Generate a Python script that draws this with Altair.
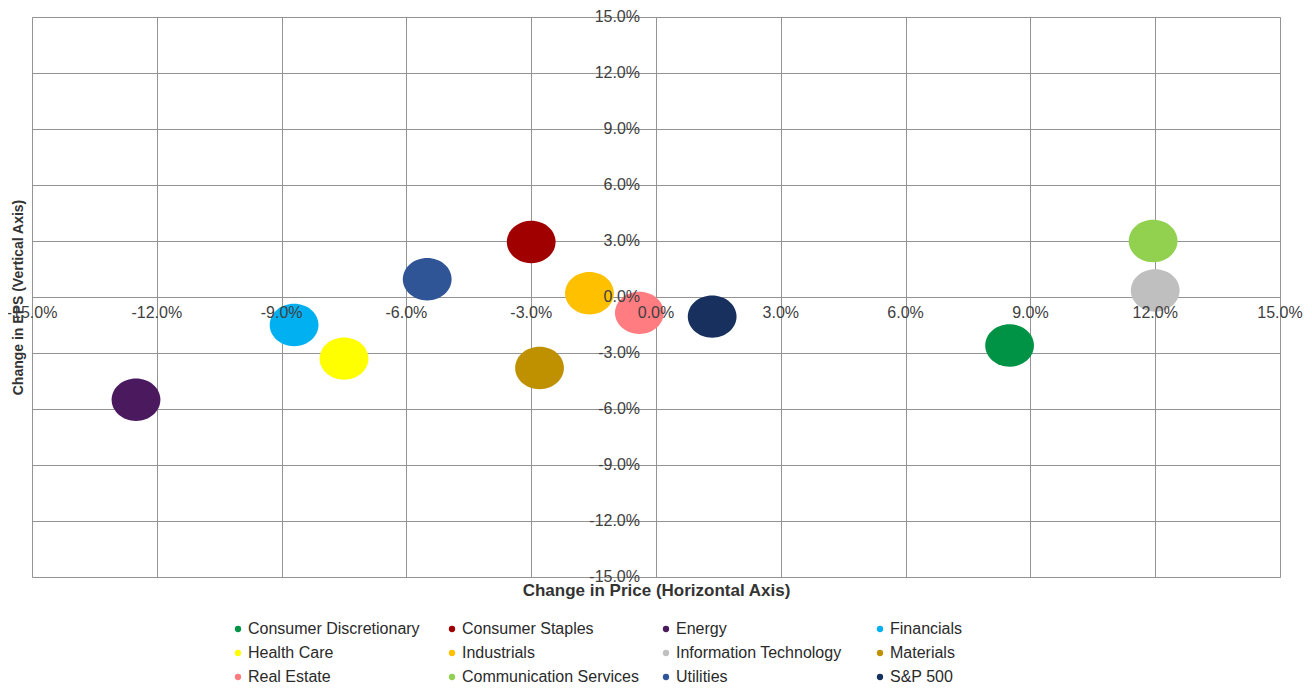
import altair as alt
import pandas as pd

sectors = ["Consumer Discretionary", "Consumer Staples", "Energy", "Financials",
           "Health Care", "Industrials", "Information Technology", "Materials",
           "Real Estate", "Communication Services", "Utilities", "S&P 500"]
price_change = [8.5, -3.0, -12.5, -8.7, -7.5, -1.6, 12.0, -2.8, -0.4, 11.95, -5.5, 1.35]
eps_change = [-2.6, 2.95, -5.5, -1.5, -3.3, 0.2, 0.35, -3.8, -0.85, 3.0, 0.95, -1.05]
colors = ["#009245", "#A00000", "#4B1A5E", "#00B0F0", "#FFFF00", "#FFC000",
          "#BFBFBF", "#BF9000", "#FF7C80", "#92D050", "#2F5597", "#17305E"]
ticks = [-15, -12, -9, -6, -3, 0, 3, 6, 9, 12, 15]
tick_labels = [f"{t:.1f}%" for t in ticks]

FONT = "Liberation Sans, Arial, sans-serif"
W, H = 1248, 560

df = pd.DataFrame({"sector": sectors, "price": price_change, "eps": eps_change})
ticks_df = pd.DataFrame({"t": ticks, "label": tick_labels, "zero": [0] * len(ticks)})

xscale = alt.Scale(domain=[-15, 15], nice=False, zero=False)
yscale = alt.Scale(domain=[-15, 15], nice=False, zero=False)

ellipse = "M-1.15,0 A1.15,1 0 1,0 1.15,0 A1.15,1 0 1,0 -1.15,0 Z"

points = alt.Chart(df).mark_point(filled=True, opacity=1, shape=ellipse, size=1800, strokeWidth=0).encode(
    x=alt.X("price:Q", scale=xscale,
            axis=alt.Axis(values=ticks, labels=False, ticks=False, domain=False, grid=True,
                          gridColor="#939393", gridWidth=1,
                          title="Change in Price (Horizontal Axis)",
                          titleFont=FONT, titleFontSize=17, titleFontWeight="bold", titleColor="#333333",
                          titleX=W / 2, titleY=13, titleBaseline="middle", titleAlign="center")),
    y=alt.Y("eps:Q", scale=yscale,
            axis=alt.Axis(values=ticks, labels=False, ticks=False, domain=False, grid=True,
                          gridColor="#939393", gridWidth=1,
                          title="Change in EPS (Vertical Axis)",
                          titleFont=FONT, titleFontSize=14, titleFontWeight="bold", titleColor="#333333",
                          titleX=-14, titleY=H / 2, titleAngle=-90, titleBaseline="middle",
                          titleAlign="center")),
    color=alt.Color("sector:N", sort=sectors,
                    scale=alt.Scale(domain=sectors, range=colors),
                    legend=alt.Legend(title=None, orient="none", legendX=198, legendY=604,
                                      direction="horizontal", columns=4, gridAlign="all",
                                      symbolType="circle", symbolSize=40, symbolStrokeWidth=0,
                                      labelFont=FONT, labelFontSize=16, labelColor="#2a2a2a",
                                      columnPadding=19, rowPadding=8, labelOffset=2,
                                      labelLimit=300)),
)

xlabels = alt.Chart(ticks_df).mark_text(font=FONT, fontSize=16, color="#404040",
                                        align="center", baseline="middle", dy=16).encode(
    x=alt.X("t:Q", scale=xscale), y=alt.Y("zero:Q", scale=yscale), text="label:N")

ylabels = alt.Chart(ticks_df).mark_text(font=FONT, fontSize=16, color="#404040",
                                        align="right", baseline="middle", dx=-16).encode(
    x=alt.X("zero:Q", scale=xscale), y=alt.Y("t:Q", scale=yscale), text="label:N")

chart = alt.layer(points, xlabels, ylabels).properties(
    width=W, height=H,
    autosize=alt.AutoSizeParams(type="none"),
    padding={"left": 24, "top": 9, "right": 24, "bottom": 107},
).configure_view(stroke="#8a8a8a", strokeWidth=1).configure(background="white")

chart.save("out.html", embed_options={"renderer": "svg", "actions": False})
